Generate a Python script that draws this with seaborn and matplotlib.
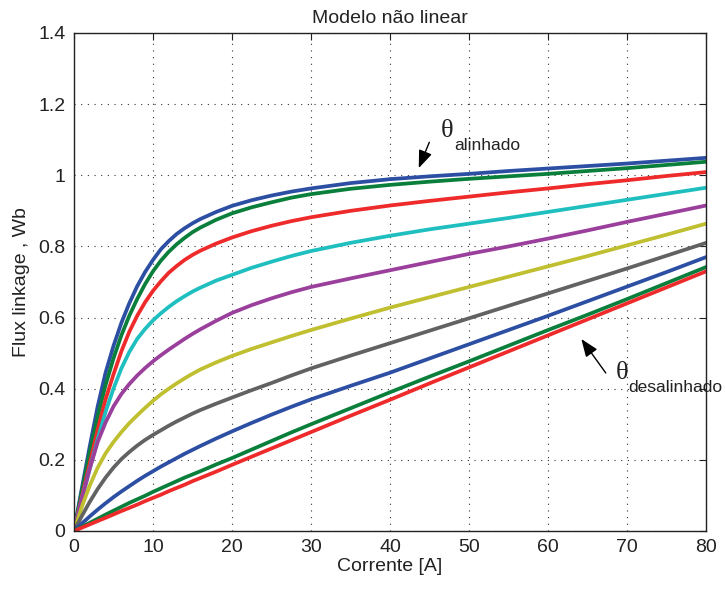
import numpy as np
import pandas as pd
import matplotlib
matplotlib.use("Agg")
import matplotlib.pyplot as plt
import seaborn as sns

# Current samples [A]
corrente = [0, 1, 2, 3, 4, 5, 6, 7, 8, 9, 10, 11, 12, 13, 14, 15, 16, 18, 20,
            22.5, 25, 27.5, 30, 35, 40, 45, 50, 55, 60, 65, 70, 75, 80]

# Flux linkage curves [Wb] (aligned -> unaligned)
psi_1 = [0, 0.12, 0.238, 0.35, 0.445, 0.52, 0.585, 0.64, 0.688, 0.728, 0.762, 0.792, 0.815,
         0.835, 0.851, 0.865, 0.877, 0.897, 0.914, 0.93, 0.943, 0.954, 0.963, 0.978, 0.989,
         0.997, 1.004, 1.012, 1.019, 1.026, 1.033, 1.041, 1.049]
psi_2 = [0, 0.112, 0.222, 0.322, 0.41, 0.485, 0.55, 0.605, 0.652, 0.694, 0.73, 0.76, 0.785,
         0.806, 0.824, 0.84, 0.853, 0.875, 0.893, 0.91, 0.924, 0.937, 0.947, 0.962, 0.973,
         0.982, 0.99, 0.997, 1.004, 1.012, 1.02, 1.029, 1.038]
psi_3 = [0, 0.097, 0.19, 0.285, 0.37, 0.44, 0.505, 0.56, 0.605, 0.643, 0.675, 0.702, 0.726,
         0.745, 0.762, 0.776, 0.788, 0.808, 0.825, 0.843, 0.858, 0.871, 0.882, 0.9, 0.915,
         0.928, 0.94, 0.952, 0.963, 0.975, 0.986, 0.998, 1.009]
psi_4 = [0, 0.09, 0.175, 0.258, 0.335, 0.4, 0.457, 0.503, 0.54, 0.568, 0.592, 0.612, 0.63,
         0.646, 0.66, 0.673, 0.684, 0.704, 0.72, 0.74, 0.757, 0.773, 0.787, 0.81, 0.83,
         0.848, 0.864, 0.88, 0.897, 0.914, 0.931, 0.948, 0.965]
psi_5 = [0, 0.09, 0.175, 0.25, 0.305, 0.35, 0.385, 0.413, 0.437, 0.458, 0.477, 0.494, 0.51,
         0.525, 0.54, 0.554, 0.567, 0.591, 0.613, 0.635, 0.654, 0.671, 0.686, 0.71, 0.733,
         0.756, 0.779, 0.8, 0.822, 0.845, 0.869, 0.892, 0.915]
psi_6 = [0, 0.068, 0.128, 0.178, 0.218, 0.25, 0.278, 0.303, 0.325, 0.346, 0.366, 0.384, 0.4,
         0.415, 0.429, 0.442, 0.454, 0.474, 0.492, 0.512, 0.53, 0.548, 0.565, 0.597, 0.628,
         0.657, 0.686, 0.715, 0.744, 0.773, 0.803, 0.833, 0.864]
psi_7 = [0, 0.042, 0.082, 0.118, 0.15, 0.178, 0.202, 0.222, 0.24, 0.256, 0.27, 0.283, 0.296,
         0.308, 0.319, 0.33, 0.34, 0.358, 0.375, 0.396, 0.416, 0.437, 0.457, 0.493, 0.528,
         0.563, 0.598, 0.633, 0.668, 0.703, 0.738, 0.774, 0.81]
psi_8 = [0, 0.021, 0.041, 0.06, 0.078, 0.095, 0.111, 0.126, 0.141, 0.155, 0.168, 0.181, 0.193,
         0.205, 0.217, 0.228, 0.239, 0.26, 0.28, 0.304, 0.327, 0.349, 0.37, 0.408, 0.445,
         0.485, 0.525, 0.565, 0.605, 0.646, 0.687, 0.728, 0.77]
psi_9 = [0, 0.0115, 0.023, 0.0345, 0.046, 0.057, 0.068, 0.079, 0.089, 0.099, 0.11, 0.12, 0.13,
         0.14, 0.15, 0.159, 0.168, 0.187, 0.205, 0.229, 0.253, 0.277, 0.3, 0.345, 0.39,
         0.434, 0.477, 0.521, 0.565, 0.608, 0.652, 0.697, 0.742]
psi_10 = [0, 0.0093, 0.0186, 0.028, 0.037, 0.0465, 0.056, 0.065, 0.074, 0.084, 0.093, 0.102,
          0.112, 0.121, 0.13, 0.14, 0.149, 0.167, 0.186, 0.209, 0.232, 0.255, 0.278, 0.324,
          0.369, 0.415, 0.46, 0.505, 0.55, 0.595, 0.64, 0.685, 0.73]

curves = [psi_1, psi_2, psi_3, psi_4, psi_5, psi_6, psi_7, psi_8, psi_9, psi_10]
names = [f"c{k+1}" for k in range(len(curves))]
colors = ["#2c4fa3", "#0a7e3b", "#ee2a2b", "#1fbfc0", "#9a3f9b",
          "#bfbf30", "#626262", "#2c4fa3", "#0a7e3b", "#ee2a2b"]

xticks = [0, 10, 20, 30, 40, 50, 60, 70, 80]
yticks = [0, 0.2, 0.4, 0.6, 0.8, 1.0, 1.2, 1.4]
ytick_labels = ["0", "0.2", "0.4", "0.6", "0.8", "1", "1.2", "1.4"]

df = pd.DataFrame({
    "i": np.tile(corrente, len(curves)),
    "psi": np.concatenate(curves),
    "curve": np.repeat(names, len(corrente)),
})

sns.set_theme(style="white")
plt.rcParams["font.family"] = ["Liberation Sans", "DejaVu Sans"]

fig = plt.figure(figsize=(7.25, 5.89), dpi=100)
ax = fig.add_axes([0.102, 0.0985, 0.872, 0.8455])

sns.lineplot(data=df, x="i", y="psi", hue="curve", hue_order=names,
             palette=colors, legend=False, lw=2.7, ax=ax, sort=False,
             estimator=None)
for ln in ax.lines:
    ln.set_solid_joinstyle("round")
    ln.set_solid_capstyle("round")

ax.set_xlim(0, 80)
ax.set_ylim(0, 1.4)
ax.set_xticks(xticks)
ax.set_yticks(yticks)
ax.set_yticklabels(ytick_labels)
ax.grid(True, color="#333333", linestyle=(0, (1, 5)), linewidth=0.8)
ax.tick_params(direction="in", length=5, width=0.8, top=True, right=True,
               labelsize=14, colors="#222222", pad=6)
for s in ax.spines.values():
    s.set_color("#222222")
    s.set_linewidth(1.0)

ax.set_xlabel("Corrente [A]", fontsize=14, color="#222222", labelpad=1)
ax.set_ylabel("Flux linkage , Wb", fontsize=14, color="#222222", labelpad=6)
ax.set_title("Modelo não linear", fontsize=14, color="#222222", pad=7)

# Annotations
ax.annotate("", xy=(43.5, 1.013), xytext=(45.1, 1.100),
            arrowprops=dict(arrowstyle="-|>,head_length=0.9,head_width=0.35",
                            color="black", lw=1.0))
ax.text(47.25, 1.124, "θ", fontsize=19, family=["Liberation Serif", "DejaVu Serif"],
        ha="center", va="center", color="#222222")
ax.text(48.1, 1.084, "alinhado", fontsize=12.5, ha="left", va="center", color="#222222")

ax.annotate("", xy=(64.0, 0.546), xytext=(67.5, 0.438),
            arrowprops=dict(arrowstyle="-|>,head_length=0.9,head_width=0.35",
                            color="black", lw=1.0))
ax.text(69.4, 0.444, "θ", fontsize=19, family=["Liberation Serif", "DejaVu Serif"],
        ha="center", va="center", color="#222222")
ax.text(70.1, 0.404, "desalinhado", fontsize=12.5, ha="left", va="center",
        color="#222222", clip_on=False)

fig.savefig("out.png", dpi=100)
